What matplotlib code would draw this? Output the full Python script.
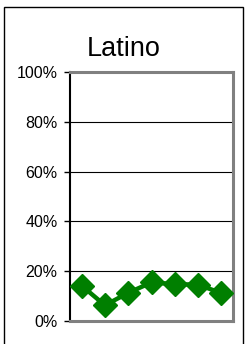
import matplotlib
matplotlib.use('Agg')
import matplotlib.pyplot as plt
from matplotlib.patches import Rectangle
from matplotlib.ticker import FuncFormatter

plt.rcParams['font.family'] = ['Liberation Sans', 'DejaVu Sans']

title = "Latino"
categories = ["1", "2", "3", "4", "5", "6", "7"]
values = [14.2, 6.3, 11.3, 15.5, 14.8, 14.6, 11.2]
y_ticks = [0, 20, 40, 60, 80, 100]

fig = plt.figure(figsize=(2.46, 3.44), dpi=100)
fig.patch.set_facecolor('white')

# outer chart border
fig.patches.append(Rectangle((4 / 246, -0.01), 239 / 246, 1 - 7 / 344 + 0.01,
                             transform=fig.transFigure, fill=False,
                             edgecolor='black', linewidth=1.0))

ax = fig.add_axes([70 / 246, 23 / 344, 163 / 246, 249 / 344])
x = range(len(categories))
ax.plot(x, values, color='#007F00', linewidth=3.2, marker='D',
        markersize=12.5, markeredgecolor='#007F00', zorder=3)

ax.set_xlim(-0.5, len(categories) - 0.5)
ax.set_ylim(0, 100)
ax.set_yticks(y_ticks)
ax.yaxis.set_major_formatter(FuncFormatter(lambda v, p: f"{v:.0f}%"))
ax.set_xticks([])
ax.tick_params(axis='y', direction='out', length=4, width=1, pad=5,
               labelsize=11.5, colors='black')
for v in y_ticks[1:-1]:
    ax.axhline(v, color='black', linewidth=0.8, zorder=1)

ax.spines['left'].set_color('black')
ax.spines['left'].set_linewidth(1.5)
for side in ['top', 'right', 'bottom']:
    ax.spines[side].set_color('#808080')
    ax.spines[side].set_linewidth(2.2)

fig.text(124 / 246, 1 - 56 / 344, title, ha='center', va='baseline', fontsize=19.5)

fig.savefig("out.png", dpi=100)
plt.close(fig)
